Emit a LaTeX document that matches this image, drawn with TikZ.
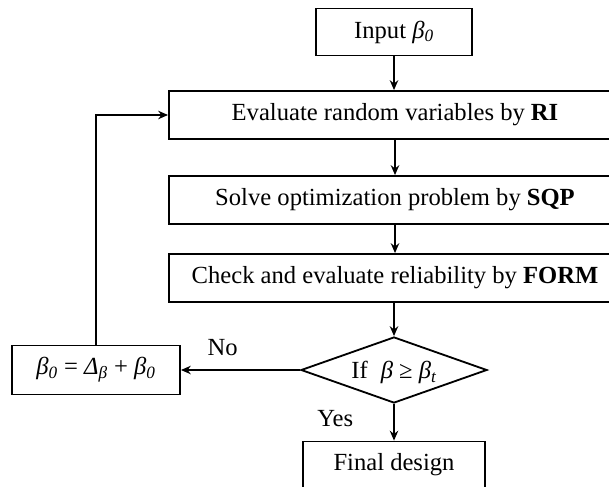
\documentclass[tikz,border=0pt]{standalone}
\usepackage{fontspec}
\setmainfont{Liberation Serif}
\usetikzlibrary{shapes.geometric, arrows.meta}

\begin{document}
\begin{tikzpicture}[x=0.025cm, y=-0.025cm, line width=1.3pt,
    font=\fontsize{17.5}{20}\selectfont,
    box/.style={draw, rectangle, inner sep=0pt},
    stepbox/.style={box, minimum width=11.3cm, minimum height=1.2cm},
    flow/.style={draw, -{Stealth[length=7pt, width=6pt]}}]
    \clip (0,0) rectangle (609,486);
    \node[box, minimum width=3.9cm, minimum height=1.175cm] at (394,32) (input) {Input \textit{β\textsubscript{0}}};
    \node[stepbox] at (395,115) (eval) {Evaluate random variables by \textbf{RI}};
    \node[stepbox] at (395,200) (solve) {Solve optimization problem by \textbf{SQP}};
    \node[stepbox] at (395,278) (check) {Check and evaluate reliability by \textbf{FORM}};
    \node[draw, diamond, inner sep=0pt, minimum width=4.65cm, minimum height=1.65cm] at (394,370) (test) {\makebox[0pt]{\smash{\raisebox{-6pt}{If\; \textit{β} ≥ \textit{β\textsubscript{t}}}}}};
    \node[box, minimum width=4.2cm, minimum height=1.225cm] at (96,370) (update) {\textit{β\textsubscript{0}} = \textit{Δ\textsubscript{β}} + \textit{β\textsubscript{0}}};
    \node[box, minimum width=4.55cm, minimum height=1.175cm] at (394,465) (final) {Final design};
    \draw[flow] (input) -- (input |- eval.north);
    \draw[flow] (eval) -- (eval |- solve.north);
    \draw[flow] (solve) -- (solve |- check.north);
    \draw[flow] (check.south -| test.north) -- (test.north);
    \draw[flow] (test.west) -- (update.east) node [pos=0.65, above=6pt] {No};
    \draw[flow] (test.south) -- (test.south |- final.north) node [pos=0.4, left=25pt] {Yes};
    \draw[flow] (update.north) |- (eval.west);
\end{tikzpicture}
\end{document}
